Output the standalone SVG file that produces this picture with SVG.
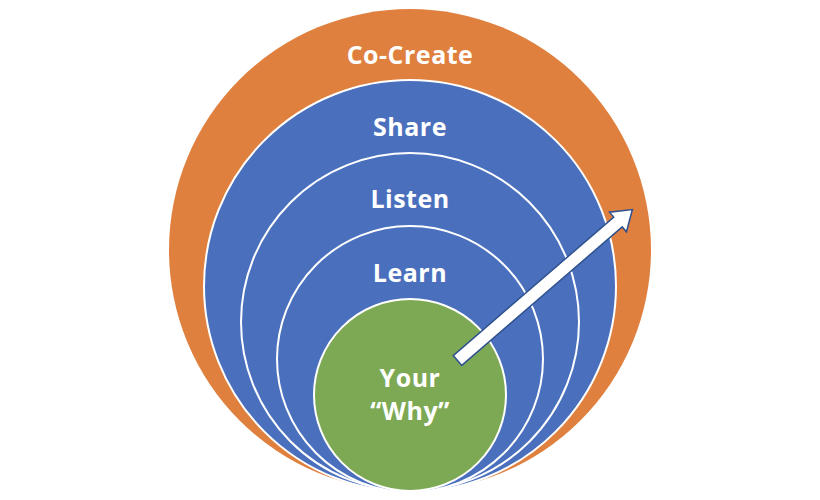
<svg xmlns="http://www.w3.org/2000/svg" width="820" height="500" viewBox="0 0 820 500">
  <style>
    .ring { stroke: #ffffff; stroke-width: 2; }
    .blue { fill: #4A70BD; }
    .lbl { font-family: "Open Sans", "Liberation Sans", sans-serif; font-weight: 700; font-size: 25px; letter-spacing: 0.5px; fill: #ffffff; text-anchor: middle; }
  </style>
  <rect width="820" height="500" fill="#ffffff"/>
  <g id="co-create">
    <circle cx="410" cy="250" r="241" fill="#E0803F"/>
    <text class="lbl" x="410" y="64">Co-Create</text>
  </g>
  <g id="share">
    <circle class="ring blue" cx="410" cy="286" r="206"/>
    <text class="lbl" x="410" y="136">Share</text>
  </g>
  <g id="listen">
    <circle class="ring blue" cx="410" cy="322" r="169"/>
    <text class="lbl" x="410" y="208">Listen</text>
  </g>
  <g id="learn">
    <circle class="ring blue" cx="410" cy="359" r="133"/>
    <text class="lbl" x="410" y="282">Learn</text>
  </g>
  <g id="why">
    <circle class="ring" cx="410" cy="395" r="96" fill="#7DA954"/>
    <text class="lbl" x="410" y="387">Your</text>
    <text class="lbl" x="410" y="420">“Why”</text>
  </g>
  <g id="connectors">
    <g transform="translate(457.5,360.5) rotate(-40.8)">
      <path d="M0,-6.5 L212,-6.5 L212,-13 L231,0 L212,13 L212,6.5 L0,6.5 Z" fill="#ffffff" stroke="#2F528F" stroke-width="1.5" stroke-linejoin="miter"/>
    </g>
  </g>
</svg>
